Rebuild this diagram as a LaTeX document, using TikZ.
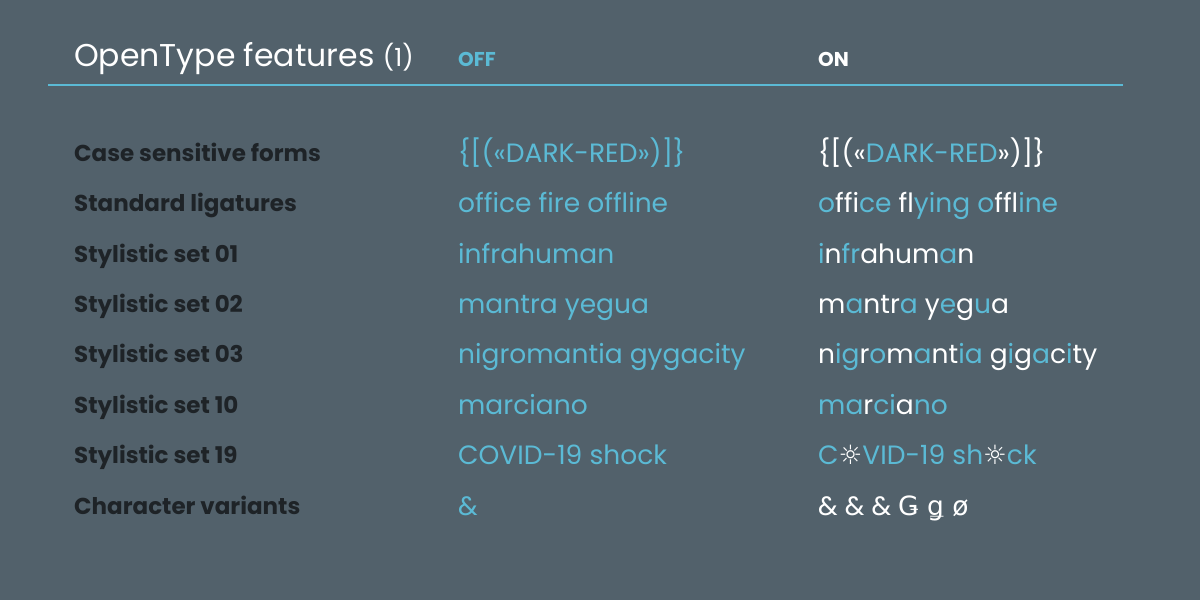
\documentclass[tikz,border=0pt]{standalone}
\usepackage{fontspec}
\setmainfont{Poppins}
\newfontfamily\dv{DejaVu Sans}
\definecolor{bg}{HTML}{52616B}
\definecolor{cy}{HTML}{5BBAD5}
\definecolor{dk}{HTML}{1E2327}
\newcommand{\W}[1]{\textcolor{white}{#1}}
\newcommand{\C}[1]{\textcolor{cy}{#1}}
\begin{document}
\begin{tikzpicture}[x=1pt,y=-1pt,
 lab/.style={anchor=base west,text=dk,font=\fontsize{23}{23}\selectfont\bfseries,inner sep=0},
 off/.style={anchor=base west,text=cy,font=\fontsize{26.5}{26}\selectfont,inner sep=0},
 on/.style={anchor=base west,text=cy,font=\fontsize{26.5}{26}\selectfont,inner sep=0}]
\fill[bg] (0,0) rectangle (1200,600);
\useasboundingbox (0,0) rectangle (1200,600);
\node[anchor=base west,inner sep=0,text=white,font=\fontsize{31.5}{31}\selectfont] (t) at (74,66) {OpenType features \fontsize{25}{25}\selectfont(1)};
\node[anchor=base west,inner sep=0,text=cy,font=\fontsize{20}{20}\selectfont\bfseries] (off) at (458,66) {OFF};
\node[anchor=base west,inner sep=0,text=white,font=\fontsize{20}{20}\selectfont\bfseries] (on) at (818,66) {ON};
\coordinate (l1) at (48,85); \coordinate (l2) at (1123,85);
\draw[cy,line width=1.2] (l1) -- (l2);
\foreach \y/\a/\b [count=\i] in {153/Case sensitive forms/{\{[(«DARK-RED»)]\}},203/Standard ligatures/office fire offline,254/Stylistic set 01/infrahuman,304/Stylistic set 02/mantra yegua,354/Stylistic set 03/nigromantia gygacity,405/Stylistic set 10/marciano,455/Stylistic set 19/COVID-19 shock,506/Character variants/\&}{
 \node[lab] (l\i) at (74,\y+8) {\a};
 \node[off] (o\i) at (458,\y+9) {\b};
}
\node[on] (n1) at (818,162) {\W{\{[(«}DARK-RED\W{»)]\}}};
\node[on] (n2) at (818,212) {o\W{ffi}ce \W{fl}ying o\W{ffl}ine};
\node[on] (n3) at (818,263) {i\W{n}fr\W{a}\W{hum}\C{a}\W{n}};
\node[on] (n4) at (818,313) {\W{m}a\W{ntr}a \W{y}e\W{g}u\W{a}};
\node[on] (n5) at (818,363) {\W{n}ig\W{r}o\W{m}a\W{nt}ia \W{g}i\W{g}a\W{c}i\W{ty}};
\node[on] (n6) at (818,414) {ma\W{r}ci\W{a}no};
\node[on] (n7) at (818,464) {C{\dv\W{☼}}VID-19 sh{\dv\W{☼}}ck};
\node[on,text=white] (n8) at (818,515) {\& \& \& {\dv Ǥ ǥ ø}};
\end{tikzpicture}
\end{document}
